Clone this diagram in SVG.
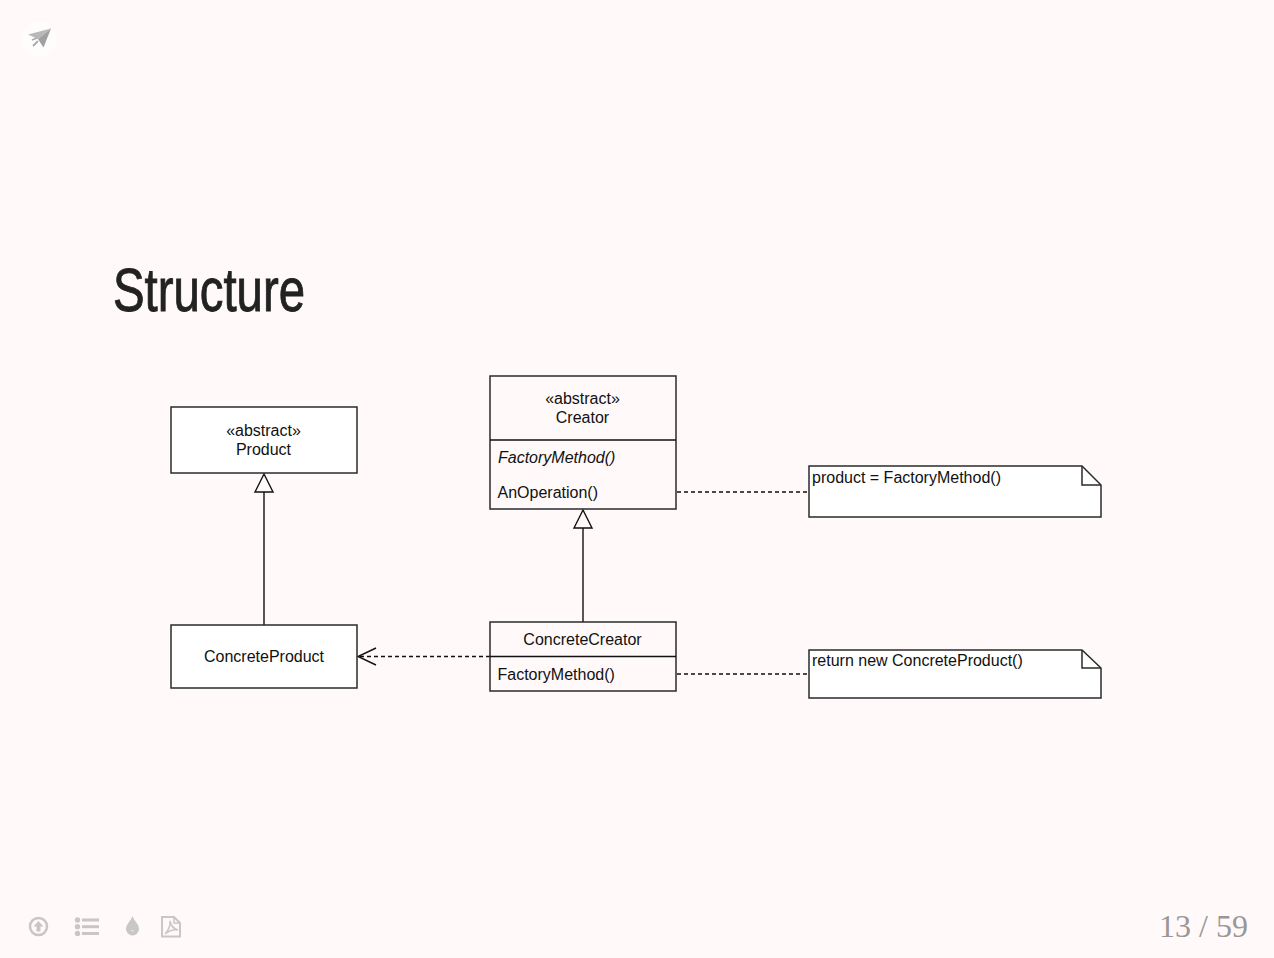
<svg xmlns="http://www.w3.org/2000/svg" width="1274" height="958" viewBox="0 0 1274 958">
<style>
.box{fill:#fff;stroke:#2b2b2b;stroke-width:1.5}
.boxn{fill:none;stroke:#2b2b2b;stroke-width:1.5}
.line{fill:none;stroke:#111;stroke-width:1.4}
.dash{fill:none;stroke:#111;stroke-width:1.4;stroke-dasharray:4 3}
.head{fill:#fff9f9;stroke:#111;stroke-width:1.4}
.t{font-family:"Liberation Sans",Arial,sans-serif;font-size:16px;fill:#111}
.m{text-anchor:middle}
.ic{fill:#c9c7c6}
.ics{fill:none;stroke:#c9c7c6}
</style>
<rect width="1274" height="958" fill="#fff9f9"/>
<g id="logo">
<circle cx="39" cy="39" r="18" fill="#fffdfc"/>
<path d="M28 34.500L51 28.500L38 39Z" fill="#b8b8b8"/>
<path d="M51 28.500L43.500 47.500L38 39Z" fill="#a0a0a0"/>
<path d="M32 40L37 38M33 46L38 41" stroke="#aaa" stroke-width="1.800" fill="none"/>
</g>
<text id="title" x="113" y="311" font-family="'Liberation Sans Narrow','Liberation Sans',sans-serif" font-size="62" fill="#222" stroke="#222" stroke-width="0.900" textLength="192" lengthAdjust="spacingAndGlyphs">Structure</text>
<g id="connectors">
<path class="line" d="M264 625V492"/>
<path class="line" d="M583 622V527"/>
<path class="dash" d="M490 656.500H360"/>
<path class="line" d="M376 648L358 656.500L376 665"/>
<path class="dash" d="M677 492H809"/>
<path class="dash" d="M677 674H809"/>
<path class="head" d="M264 474L273 492H255Z"/>
<path class="head" d="M583 510L592 528H574Z"/>
</g>
<g id="product">
<rect class="box" x="171" y="407" width="186" height="66"/>
<text class="t m" x="263.500" y="436">«abstract»</text>
<text class="t m" x="263.500" y="455">Product</text>
</g>
<g id="creator">
<rect class="boxn" x="490" y="376" width="186" height="133"/>
<path class="line" d="M490 440H676"/>
<text class="t m" x="582.500" y="404">«abstract»</text>
<text class="t m" x="582.500" y="423">Creator</text>
<text class="t" x="498" y="463" font-style="italic">FactoryMethod()</text>
<text class="t" x="497.500" y="498">AnOperation()</text>
</g>
<g id="concrete-product">
<rect class="box" x="171" y="625" width="186" height="63"/>
<text class="t m" x="264" y="662">ConcreteProduct</text>
</g>
<g id="concrete-creator">
<rect class="boxn" x="490" y="622" width="186" height="69"/>
<path class="line" d="M490 656.500H676"/>
<text class="t m" x="582.500" y="645">ConcreteCreator</text>
<text class="t" x="497.500" y="680">FactoryMethod()</text>
</g>
<g id="note1">
<path class="box" d="M809 466H1082L1101 485V517H809Z"/>
<path class="box" d="M1082 466V485H1101" style="fill:none"/>
<text class="t" x="812" y="483">product = FactoryMethod()</text>
</g>
<g id="note2">
<path class="box" d="M809 650H1082L1101 668V698H809Z"/>
<path class="box" d="M1082 650V668H1101" style="fill:none"/>
<text class="t" x="812" y="666">return new ConcreteProduct()</text>
</g>
<g id="toolbar">
<g id="icon-up"><circle class="ics" cx="38.500" cy="926.500" r="8.500" stroke-width="2.500"/><path class="ic" d="M38.500 921L43.500 926.500H40.500V931.500H36.500V926.500H33.500Z"/></g>
<g id="icon-list"><circle class="ic" cx="77.500" cy="920" r="2.700"/><circle class="ic" cx="77.500" cy="926.800" r="2.700"/><circle class="ic" cx="77.500" cy="933.500" r="2.700"/><rect class="ic" x="82" y="918.500" width="17" height="3"/><rect class="ic" x="82" y="925.200" width="17" height="3"/><rect class="ic" x="82" y="932" width="17" height="3"/></g>
<g id="icon-drop"><path class="ic" d="M132.500 916C134 921 139 924 139 929A6.500 6.500 0 0 1 126 929C126 924 131 921 132.500 916Z"/><path d="M131 930.500A2 2 0 0 0 134 930.500Z" fill="#fff9f9"/></g>
<g id="icon-pdf"><path class="ics" stroke-width="2" d="M162 917H174L180 923V936.500H162Z"/><path class="ics" stroke-width="1.500" d="M174 917V923H180M165 934C168 931 171 925 170 921C171 926 174 929 178 930C174 929 169 931 165 934Z"/></g>
</g>
<text id="page" x="1248" y="937" text-anchor="end" font-family="'Liberation Serif',serif" font-size="32" fill="#9a9796">13 / 59</text>
</svg>
